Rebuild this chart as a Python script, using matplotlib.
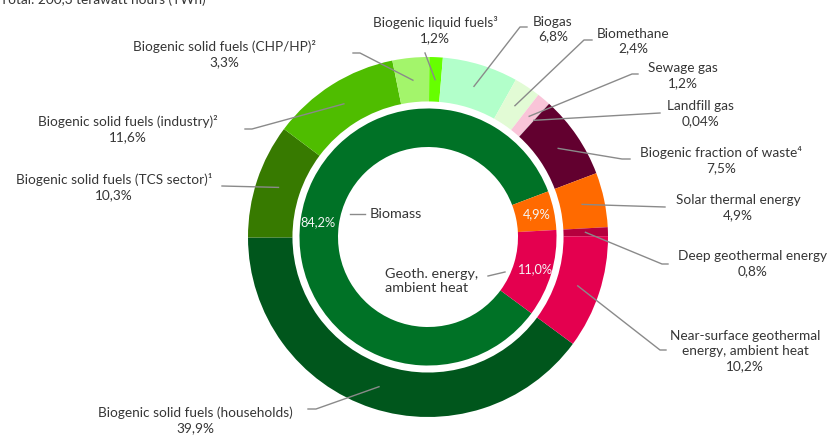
import numpy as np
import matplotlib.pyplot as plt

plt.rcParams['font.family'] = ['Lato', 'DejaVu Sans']

# outer ring: individual sources, clockwise starting at lower right
outer_labels = [
    "Biogenic solid fuels (households)",
    "Biogenic solid fuels (TCS sector)\u00b9",
    "Biogenic solid fuels (industry)\u00b2",
    "Biogenic solid fuels (CHP/HP)\u00b2",
    "Biogenic liquid fuels\u00b3",
    "Biogas",
    "Biomethane",
    "Sewage gas",
    "Landfill gas",
    "Biogenic fraction of waste\u2074",
    "Solar thermal energy",
    "Deep geothermal energy",
    "Near-surface geothermal\nenergy, ambient heat",
]
outer_values = [39.9, 10.3, 11.6, 3.3, 1.2, 6.8, 2.4, 1.2, 0.04, 7.5, 4.9, 0.8, 10.2]
outer_text = ["39,9%", "10,3%", "11,6%", "3,3%", "1,2%", "6,8%", "2,4%",
              "1,2%", "0,04%", "7,5%", "4,9%", "0,8%", "10,2%"]
outer_colors = ["#00561c", "#377a00", "#4fbd00", "#a3f56b", "#66ff00", "#b2ffca",
                "#e2fbd5", "#f9c4d8", "#c0c0c0", "#62002f", "#ff6a00", "#b5003e", "#e4004f"]

# inner ring: groups
inner_labels = ["Biomass", "Solar thermal energy", "Geoth. energy,\nambient heat"]
inner_values = [84.2, 4.9, 11.0]
inner_text = ["84,2%", "4,9%", "11,0%"]
inner_colors = ["#007226", "#ff6a00", "#e4004f"]

W, H = 832, 437
CX, CY, R = 428, 237, 180


def px(x, y):
    return (x - CX) / R, (CY - y) / R


# label block centres and leader elbows (pixels)
label_pos = [(195, 420), (114, 187), (128, 129), (224, 54), (435, 30), (553, 29),
             (633, 41), (683, 76), (700, 114), (721, 160), (738, 208), (753, 264),
             (745, 351)]
leader_pts = [
    [(308, 409), (316, 409)],
    [(222, 186)],
    [(245, 129), (252, 129)],
    [(353, 53), (360, 53)],
    [(425, 53)],
    [(527, 27), (520, 27)],
    [(592, 40), (584, 40)],
    [(638, 74), (632, 74)],
    [(660, 113)],
    [(630, 159), (622, 159)],
    [(665, 207)],
    [(668, 264), (662, 264)],
    [(666, 350), (660, 350)],
]

fig = plt.figure(figsize=(W / 100, H / 100), dpi=100)
ax = fig.add_axes([0, 0, 1, 1])

start = 90 - 126.4
wo, _ = ax.pie(outer_values, colors=outer_colors, radius=1.0, startangle=start,
               counterclock=False, wedgeprops=dict(width=0.247, linewidth=0))
wi, _ = ax.pie(inner_values, colors=inner_colors, radius=0.714, startangle=start,
               counterclock=False, wedgeprops=dict(width=0.214, linewidth=0))

ax.set_xlim(-CX / R, (W - CX) / R)
ax.set_ylim(-(H - CY) / R, CY / R)
ax.set_aspect('auto')
ax.axis('off')

txt_col = '#363636'
line_col = '#8a8a8a'
fs = 9.8

for w, lab, pct, pos, pts in zip(wo, outer_labels, outer_text, label_pos, leader_pts):
    mid = np.deg2rad((w.theta1 + w.theta2) / 2)
    anchor = (0.875 * np.cos(mid), 0.875 * np.sin(mid))
    xy = [px(*p) for p in pts] + [anchor]
    ax.plot([p[0] for p in xy], [p[1] for p in xy], color=line_col, lw=1)
    tx, ty = px(*pos)
    ax.text(tx, ty, lab + "\n" + pct, ha='center', va='center', fontsize=fs,
            color=txt_col, linespacing=1.3)

# inner ring percentages
for w, pct in zip(wi, inner_text):
    mid = np.deg2rad((w.theta1 + w.theta2) / 2)
    ax.text(0.615 * np.cos(mid), 0.615 * np.sin(mid), pct, ha='center', va='center',
            fontsize=9.2, color='#f4f4f4')

# inner ring group names inside the hole
ax.plot(*zip(px(350, 214), px(365, 214)), color=line_col, lw=1)
ax.text(*px(370, 214), inner_labels[0], ha='left', va='center', fontsize=fs + 0.6, color=txt_col)
ax.plot(*zip(px(488, 276), px(505, 272)), color=line_col, lw=1)
ax.text(*px(385, 281), inner_labels[2], ha='left', va='center', fontsize=fs + 0.6,
        color=txt_col, linespacing=1.25)

fig.text(0.0, 1 - 4 / H, "Total: 200,3 terawatt hours (TWh)", ha='left', va='baseline',
         fontsize=fs, color=txt_col)

fig.savefig("out.png", dpi=100)
